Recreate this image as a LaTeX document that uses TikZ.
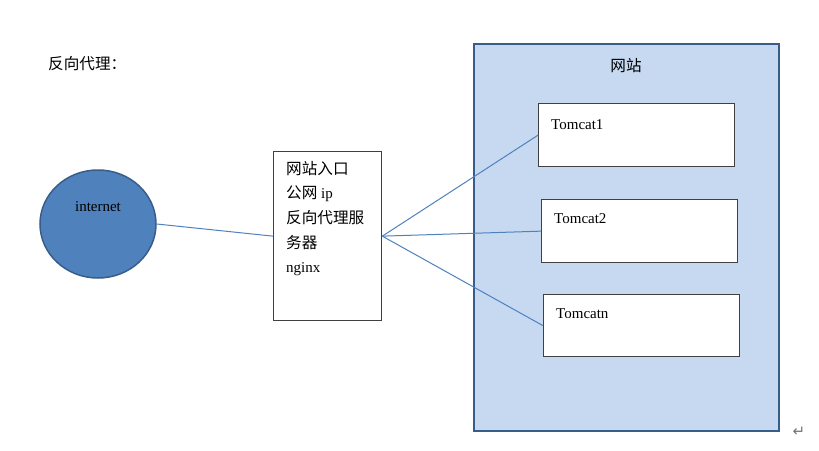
\documentclass[tikz,border=0pt]{standalone}
\usepackage{fontspec}
\setmainfont{Liberation Serif}
\newfontfamily\cjk{Noto Sans CJK SC}[Scale=1.04]
\newfontfamily\dejavu{DejaVu Sans}
\usetikzlibrary{shapes.geometric}
\definecolor{acc}{HTML}{4F81BD}
\definecolor{dk}{HTML}{385D8A}
\definecolor{lt}{HTML}{C6D9F1}
\begin{document}
\begin{tikzpicture}[x=1pt,y=-1pt,
  font=\fontsize{15}{18}\selectfont,
  box/.style={draw=black!75, line width=1.3pt, fill=white, inner sep=0, anchor=north west},
  txt/.style={anchor=base west, inner sep=0},
  link/.style={draw=acc, line width=1pt}]
\useasboundingbox (0,0) rectangle (819,450);
% title
\node[txt] (title) at (48,69) {\cjk 反向代理：};
% internet
\node[ellipse, draw=dk, line width=1.5pt, fill=acc, minimum width=116, minimum height=108] (inet) at (98,224) {};
\node[txt, anchor=base] (inettxt) at (98,211) {internet};
% proxy box
\node[box, minimum width=108, minimum height=169] (proxy) at (273,151) {};
\node[txt] (p1) at (286,174) {\cjk 网站入口};
\node[txt] (p2) at (286,198) {{\cjk 公网} ip};
\node[txt] (p3) at (286,223) {\cjk 反向代理服};
\node[txt] (p4) at (286,248) {\cjk 务器};
\node[txt] (p5) at (286,272) {nginx};
% site
\node[box, draw=dk, fill=lt, line width=2.4pt, minimum width=305, minimum height=387] (site) at (473,43) {};
\node[txt, anchor=base] (sitetxt) at (626,71) {\cjk 网站};
% tomcats
\node[box, minimum width=196, minimum height=63] (t1) at (538,103) {};
\node[txt] (t1txt) at (551,129) {Tomcat1};
\node[box, minimum width=196, minimum height=63] (t2) at (541,199) {};
\node[txt] (t2txt) at (554,223) {Tomcat2};
\node[box, minimum width=196, minimum height=62] (tn) at (543,294) {};
\node[txt] (tntxt) at (556,318) {Tomcatn};
% links
\draw[link] (inet.east) -- (proxy.west);
\draw[link] (proxy.east) -- (t1.west);
\draw[link] (proxy.east) -- (t2.west);
\draw[link] (proxy.east) -- (tn.west);
% return mark
\node[txt, anchor=center, text=black!55] (ret) at (799,432) {\dejavu\fontsize{15}{17}\selectfont ↵};
\end{tikzpicture}
\end{document}
